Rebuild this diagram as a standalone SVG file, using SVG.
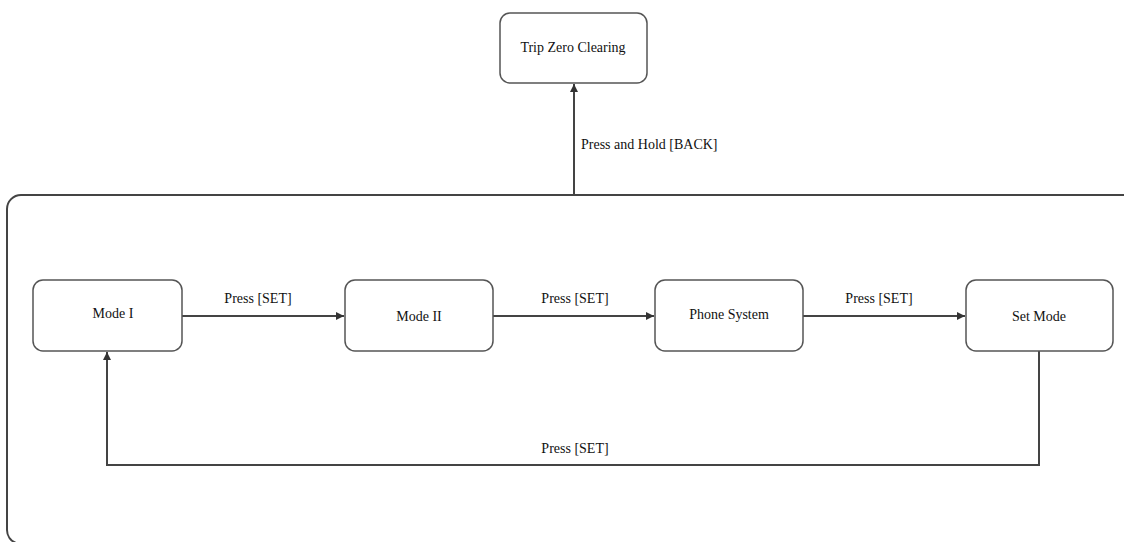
<svg xmlns="http://www.w3.org/2000/svg" width="1132" height="542" viewBox="0 0 1132 542">
<defs>
<marker id="ah" viewBox="0 0 10 10" refX="10" refY="5" markerWidth="8" markerHeight="8" markerUnits="userSpaceOnUse" orient="auto">
<path d="M0,0 L10,5 L0,10 z" fill="#333"/>
</marker>
<style>
.box{fill:#fff;stroke:#555;stroke-width:1.5}
.cont{fill:none;stroke:#444;stroke-width:2}
.lbl{font-family:"Liberation Serif",serif;font-size:14px;fill:#111}
.c{text-anchor:middle}
.ln{fill:none;stroke:#444;stroke-width:2}
</style>
</defs>
<rect width="1132" height="542" fill="#fff"/>
<g id="container"><path class="cont" d="M1124,195 H21 A14,14 0 0 0 7,209 V530 A14,14 0 0 0 16,543"/></g>
<g id="connectors">
<line class="ln" x1="574" y1="195" x2="574" y2="84" marker-end="url(#ah)"/>
<text class="lbl" x="581" y="149">Press and Hold [BACK]</text>
<line class="ln" x1="182" y1="316" x2="344" y2="316" marker-end="url(#ah)"/>
<text class="lbl c" x="258" y="303">Press [SET]</text>
<line class="ln" x1="493" y1="316" x2="654" y2="316" marker-end="url(#ah)"/>
<text class="lbl c" x="575" y="303">Press [SET]</text>
<line class="ln" x1="803" y1="316" x2="965" y2="316" marker-end="url(#ah)"/>
<text class="lbl c" x="879" y="303">Press [SET]</text>
<polyline class="ln" points="1039,351 1039,465 107,465 107,352" marker-end="url(#ah)"/>
<text class="lbl c" x="575" y="453">Press [SET]</text>
</g>
<g id="trip"><rect class="box" x="500" y="13" width="147" height="70" rx="10"/><text class="lbl c" x="573" y="52">Trip Zero Clearing</text></g>
<g id="mode1"><rect class="box" x="33" y="280" width="149" height="71" rx="10"/><text class="lbl c" x="113" y="318">Mode I</text></g>
<g id="mode2"><rect class="box" x="345" y="280" width="148" height="71" rx="10"/><text class="lbl c" x="419" y="321">Mode II</text></g>
<g id="phone"><rect class="box" x="655" y="280" width="148" height="71" rx="10"/><text class="lbl c" x="729" y="319">Phone System</text></g>
<g id="setmode"><rect class="box" x="966" y="280" width="147" height="71" rx="10"/><text class="lbl c" x="1039" y="321">Set Mode</text></g>
</svg>
